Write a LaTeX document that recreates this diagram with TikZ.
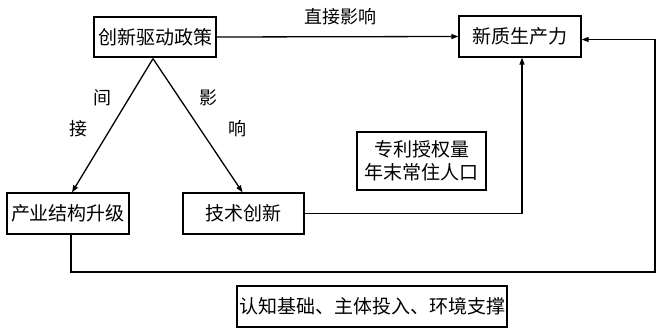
\documentclass[tikz,border=0pt]{standalone}
\usepackage{fontspec}
\newfontfamily\cjk{Noto Sans CJK SC}
\usetikzlibrary{arrows.meta,calc}
\begin{document}
\begin{tikzpicture}[x=1pt,y=-1pt,
  box/.style={draw,line width=1.3pt,inner sep=0pt,align=center,font=\cjk\fontsize{19}{23}\selectfont},
  lbl/.style={inner sep=0pt,font=\cjk\fontsize{18}{20}\selectfont},
  arr/.style={line width=1.3pt,-{Triangle[length=7pt,width=5pt]}},
  ln/.style={line width=1.3pt}]
\useasboundingbox (0,0) rectangle (659,328);
\node[box,minimum width=122pt,minimum height=40pt] (b1) at (155,37) {创新驱动政策};
\node[box,minimum width=122pt,minimum height=41pt] (b2) at (520,36.5) {新质生产力};
\node[box,minimum width=122pt,minimum height=41pt] (b3) at (68,213.5) {产业结构升级};
\node[box,minimum width=121pt,minimum height=41pt] (b4) at (243.5,213.5) {技术创新};
\node[box,minimum width=129pt,minimum height=58pt] (b5) at (421.5,161) {专利授权量\\年末常住人口};
\node[box,minimum width=270pt,minimum height=41pt] (b6) at (372,306.5) {认知基础、主体投入、环境支撑};
\node[lbl] (t1) at (340,17) {直接影响};
\node[lbl] (t2) at (102,98) {间};
\node[lbl] (t3) at (78,129) {接};
\node[lbl] (t4) at (208,98) {影};
\node[lbl] (t5) at (237,129) {响};
\coordinate (c1) at (655,272);
\draw[arr] (b1.east) -- (b2.west);
\draw[arr] ($(b1.south)+(-2,1)$) -- ($(b3.north)+(4,0)$);
\draw[arr] ($(b1.south)+(-2,1)$) -- ($(b4.north)+(-1,0)$);
\draw[arr] (b4.east) -| ($(b2.south)+(2,0)$);
\draw[arr] ($(b3.south)+(3,0)$) |- (c1) |- ($(b2.east)+(0,3)$);
\end{tikzpicture}
\end{document}
